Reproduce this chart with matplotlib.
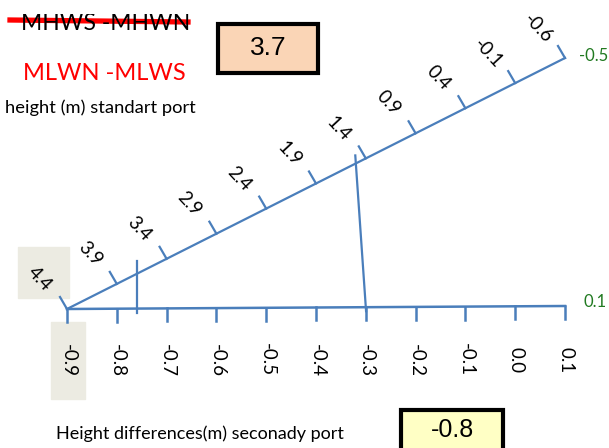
import matplotlib
matplotlib.use("Agg")
import matplotlib.pyplot as plt
from matplotlib.patches import Rectangle
from matplotlib.transforms import Bbox
import numpy as np

# scale values
bottom_values = [-0.9, -0.8, -0.7, -0.6, -0.5, -0.4, -0.3, -0.2, -0.1, 0.0, 0.1]
bottom_labels = ["-0.9", "-0.8", "-0.7", "-0.6", "-0.5", "-0.4", "-0.3", "-0.2", "-0.1", "0.0", "0.1"]
diag_values = [4.4, 3.9, 3.4, 2.9, 2.4, 1.9, 1.4, 0.9, 0.4, -0.1, -0.6]
diag_labels = ["4.4", "3.9", "3.4", "2.9", "2.4", "1.9", "1.4", "0.9", "0.4", "-0.1", "-0.6"]
end_labels = ["-0.5", "0.1"]
# reading lines: (diagonal value, bottom value)
readings = [(3.7, -0.76), (1.5, -0.3)]
result_top = "3.7"
result_bottom = "-0.8"

BLUE = "#4a7ebb"
GREEN = "#217a21"
BEIGE = "#ecebe2"

# layout of the two scales, in pixels
B0, B1 = (67, 309), (565, 306)
D0, D1 = (67, 309), (565, 58)


def bottom_px(v):
    t = (v - bottom_values[0]) / (bottom_values[-1] - bottom_values[0])
    return B0[0] + t * (B1[0] - B0[0]), B0[1] + t * (B1[1] - B0[1])


def diag_px(v):
    t = (v - diag_values[0]) / (diag_values[-1] - diag_values[0])
    return D0[0] + t * (D1[0] - D0[0]), D0[1] + t * (D1[1] - D0[1])


fig = plt.figure(figsize=(6.09, 4.48), dpi=100)
ax = fig.add_axes([0, 0, 1, 1])
ax.set_xlim(0, 609)
ax.set_ylim(448, 0)
ax.axis("off")

lab_font = "Lato"

# highlight boxes behind first labels
ax.add_patch(Rectangle((18, 247), 51, 51, color=BEIGE, zorder=0))
ax.add_patch(Rectangle((51, 322), 34, 77, color=BEIGE, zorder=0))

# bottom scale
xs = [bottom_px(v)[0] for v in bottom_values]
ys = [bottom_px(v)[1] for v in bottom_values]
ax.plot([xs[0], xs[-1]], [ys[0], ys[-1]], color=BLUE, lw=1.8)
for x, y, lab in zip(xs, ys, bottom_labels):
    ax.plot([x, x], [y, y + 13], color=BLUE, lw=1.8)
    ax.text(x + 1, 360, lab, rotation=-90, ha="center", va="center",
            fontsize=13.5, family=lab_font)

# diagonal scale
dx = [diag_px(v)[0] for v in diag_values]
dy = [diag_px(v)[1] for v in diag_values]
ax.plot([dx[0], dx[-1]], [dy[0], dy[-1]], color=BLUE, lw=1.6)
for x, y, lab in zip(dx, dy, diag_labels):
    ax.plot([x, x - 7], [y, y - 12], color=BLUE, lw=1.6)
    ax.text(x - 27, y - 30, lab, rotation=-47, ha="center", va="center",
            rotation_mode="anchor", fontsize=13.5, family=lab_font)

ax.text(579, 56, end_labels[0], color=GREEN, fontsize=12, family=lab_font,
        ha="left", va="center")
ax.text(583, 302, end_labels[1], color=GREEN, fontsize=12, family=lab_font,
        ha="left", va="center")

# reading lines
for dv, bv in readings:
    p = np.array(diag_px(dv))
    q = np.array(bottom_px(bv))
    u = (q - p) / np.linalg.norm(q - p)
    ext_top = 13 if dv > 3 else 8
    a = p - u * ext_top
    b = q + u * 4
    ax.plot([a[0], b[0]], [a[1], b[1]], color=BLUE, lw=1.6)

# titles (the struck-out one is cut off at the top, as in the original)
t = ax.text(21, 23, "MHWS -MHWN", fontsize=16.5, family=lab_font, ha="left", va="center")
t.set_clip_box(Bbox([[0, 0], [609, 448 - 14]]))
t.set_clip_on(True)
ax.plot([10, 188], [20, 22], color="#ff0000", lw=3.8)
ax.text(23, 73, "MLWN -MLWS", fontsize=17, color="#ff0000", family=lab_font,
        ha="left", va="center")
ax.text(5, 108, "height (m) standart port", fontsize=13.2, family=lab_font,
        ha="left", va="center")
ax.text(56, 434, "Height differences(m) seconady port", fontsize=13, family=lab_font,
        ha="left", va="center")

# result boxes
ax.add_patch(Rectangle((218, 24), 100, 49, facecolor="#fad5b6", edgecolor="black", lw=3))
ax.text(268, 48, result_top, fontsize=19, family="Liberation Sans", ha="center", va="center")
ax.add_patch(Rectangle((401, 410), 102, 45, facecolor="#ffffc5", edgecolor="black", lw=3))
ax.text(452, 430, result_bottom, fontsize=18, family="Liberation Sans", ha="center", va="center")

fig.savefig("out.png", dpi=100)
